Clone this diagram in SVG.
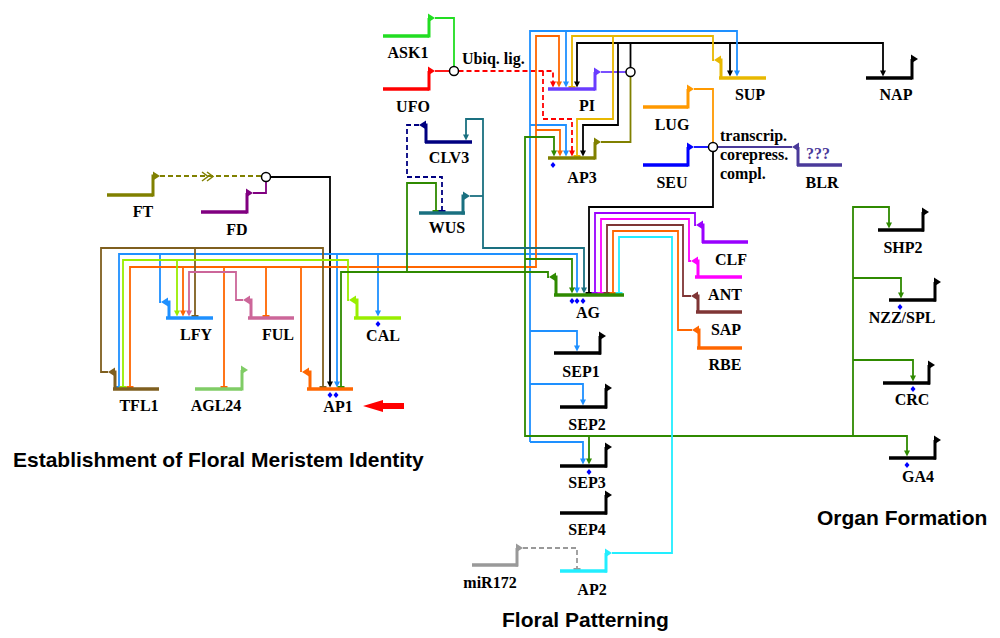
<svg xmlns="http://www.w3.org/2000/svg" width="1000" height="638" viewBox="0 0 1000 638">
<style>
.b{fill:none;stroke:currentColor;stroke-width:3.5}
.p{fill:none;stroke:currentColor;stroke-width:3}
.r{fill:none;stroke-width:1.8}
.d{stroke-dasharray:5 3}
.lb{font-family:"Liberation Serif","Times New Roman",serif;font-weight:bold;font-size:16px;text-anchor:middle;fill:#000}
.tt{font-family:"Liberation Sans",Arial,sans-serif;font-weight:bold;font-size:21px;fill:#000}
.c{fill:#fff;stroke:#000;stroke-width:1.5}
</style>
<defs>
<path id="ad" d="M0,0 L-3,-6 L3,-6 Z" fill="currentColor"/>
<path id="tb" d="M-3.5,0 H3.5" stroke="currentColor" stroke-width="2" fill="none"/>
<path id="pr" d="M0,0 L-7,-4.5 L-7,4.5 Z" fill="currentColor"/>
<path id="pl" d="M0,0 L7,-4.5 L7,4.5 Z" fill="currentColor"/>
<path id="dm" d="M0,-3 L2.5,0 L0,3 L-2.5,0 Z" fill="#0000ff"/>
</defs>
<rect width="1000" height="638" fill="#fff"/>

<g id="connectors">
<!-- FT, FD -->
<path class="r d" stroke="#808000" d="M160,176 H261.5"/>
<polyline points="202,172 208,176.5 202,181" fill="none" stroke="#808000" stroke-width="1.5"/>
<polyline points="207,172 213,176.5 207,181" fill="none" stroke="#808000" stroke-width="1.5"/>
<path class="r" stroke="#800080" d="M253,193 H266 V181.5"/>
<path class="r" stroke="#000" d="M270.5,177 H330 V382"/>
<use href="#ad" x="330" y="387.5" color="#000"/>
<!-- ASK1, UFO -->
<path class="r" stroke="#22dd22" d="M435,18 H454 V66.5"/>
<path class="r" stroke="#ff0000" d="M435,71 H449.5"/>
<path class="r d" stroke="#ff0000" d="M458.5,71 H553 V82"/>
<use href="#ad" x="553" y="87.5" color="#ff0000"/>
<path class="r d" stroke="#ff0000" d="M543,71 V119 H572 V151"/>
<use href="#ad" x="572" y="156.5" color="#ff0000"/>
<!-- PI, AP3 to complex -->
<path class="r" stroke="#6a3cff" d="M601,72 H626"/>
<path class="r" stroke="#808000" d="M601,142 H630.5 V76.5"/>
<!-- PI/AP3 complex outputs -->
<path class="r" stroke="#000" d="M630.5,67.5 V43"/>
<path class="r" stroke="#000" d="M577,82 V43 H883 V72"/>
<use href="#ad" x="577" y="87.5" color="#000"/>
<use href="#ad" x="883" y="76.5" color="#000"/>
<path class="r" stroke="#000" d="M618,43 V125 H583 V151"/>
<use href="#ad" x="583" y="156.5" color="#000"/>
<path class="r" stroke="#000" d="M730,43 V71"/>
<use href="#ad" x="730" y="76.5" color="#000"/>
<!-- SUP -->
<path class="r" stroke="#e8b800" d="M714,60 H713 V36 H572 V87"/>
<use href="#tb" x="572" y="87" color="#e8b800"/>
<path class="r" stroke="#e8b800" d="M613,36 V119 H577 V156"/>
<use href="#tb" x="577" y="156" color="#e8b800"/>
<!-- LFY -->
<path class="r" stroke="#1e90ff" d="M161,302 H160 V254"/>
<path class="r" stroke="#1e90ff" d="M119,387 V254 H577 V288"/>
<use href="#tb" x="119" y="387" color="#1e90ff"/>
<use href="#ad" x="577" y="293.5" color="#1e90ff"/>
<path class="r" stroke="#1e90ff" d="M337,254 V382"/>
<use href="#ad" x="337" y="387.5" color="#1e90ff"/>
<path class="r" stroke="#1e90ff" d="M378,254 V311"/>
<use href="#ad" x="378" y="316.5" color="#1e90ff"/>
<path class="r" stroke="#1e90ff" d="M530,442 V31 H737 V71"/>
<use href="#ad" x="737" y="76.5" color="#1e90ff"/>
<path class="r" stroke="#1e90ff" d="M530,442 H583 V459"/>
<use href="#ad" x="583" y="464.5" color="#1e90ff"/>
<path class="r" stroke="#1e90ff" d="M566,31 V82"/>
<use href="#ad" x="566" y="87.5" color="#1e90ff"/>
<path class="r" stroke="#1e90ff" d="M530,125 H566 V151"/>
<use href="#ad" x="566" y="156.5" color="#1e90ff"/>
<path class="r" stroke="#1e90ff" d="M530,331 H577 V346"/>
<use href="#ad" x="577" y="351.5" color="#1e90ff"/>
<path class="r" stroke="#1e90ff" d="M530,384 H583 V400"/>
<use href="#ad" x="583" y="405.5" color="#1e90ff"/>
<!-- AP1 -->
<path class="r" stroke="#ff6600" d="M301,372 V267"/>
<path class="r" stroke="#ff6600" d="M130,387 V267 H536 V36 H559 V82"/>
<use href="#tb" x="130" y="387" color="#ff6600"/>
<use href="#ad" x="559" y="87.5" color="#ff6600"/>
<path class="r" stroke="#ff6600" d="M183,267 V311"/>
<use href="#ad" x="183" y="316.5" color="#ff6600"/>
<path class="r" stroke="#ff6600" d="M224,267 V387"/>
<use href="#tb" x="224" y="387" color="#ff6600"/>
<path class="r" stroke="#ff6600" d="M266,267 V316"/>
<use href="#tb" x="266" y="316" color="#ff6600"/>
<path class="r" stroke="#ff6600" d="M536,130 H560 V151"/>
<use href="#ad" x="560" y="156.5" color="#ff6600"/>
<!-- TFL1 -->
<path class="r" stroke="#7f5f1f" d="M108,372 H101 V248 H323 V387"/>
<use href="#tb" x="323" y="387" color="#7f5f1f"/>
<path class="r" stroke="#7f5f1f" d="M195,248 V316"/>
<use href="#tb" x="195" y="316" color="#7f5f1f"/>
<!-- FUL -->
<path class="r" stroke="#cc6699" d="M243,300 H236 V272 H189 V311"/>
<use href="#ad" x="189" y="316.5" color="#cc6699"/>
<!-- CAL -->
<path class="r" stroke="#99ee00" d="M349,300 H348 V260 H123 V387"/>
<use href="#tb" x="123" y="387" color="#99ee00"/>
<path class="r" stroke="#99ee00" d="M177,260 V311"/>
<use href="#ad" x="177" y="316.5" color="#99ee00"/>
<!-- AG -->
<path class="r" stroke="#2f8a00" d="M549,277 H548 V272 H341 V387"/>
<use href="#tb" x="341" y="387" color="#2f8a00"/>
<path class="r" stroke="#2f8a00" d="M407,272 V183 H436 V211"/>
<use href="#tb" x="436" y="211" color="#2f8a00"/>
<path class="r" stroke="#2f8a00" d="M554,151 V137 H525 V436 H907 V451"/>
<use href="#ad" x="554" y="156.5" color="#2f8a00"/>
<use href="#ad" x="907" y="456.5" color="#2f8a00"/>
<path class="r" stroke="#2f8a00" d="M525,259 H572 V288"/>
<use href="#ad" x="572" y="293.5" color="#2f8a00"/>
<path class="r" stroke="#2f8a00" d="M589,436 V459"/>
<use href="#ad" x="589" y="464.5" color="#2f8a00"/>
<path class="r" stroke="#2f8a00" d="M853,436 V207 H889 V223"/>
<use href="#ad" x="889" y="228.5" color="#2f8a00"/>
<path class="r" stroke="#2f8a00" d="M853,278 H901 V293"/>
<use href="#ad" x="901" y="298.5" color="#2f8a00"/>
<path class="r" stroke="#2f8a00" d="M853,360 H913 V376"/>
<use href="#ad" x="913" y="381.5" color="#2f8a00"/>
<!-- WUS -->
<path class="r" stroke="#1a7080" d="M470,196 H483"/>
<path class="r" stroke="#1a7080" d="M466,135 V119 H483 V248 H584 V288"/>
<use href="#ad" x="466" y="140.5" color="#1a7080"/>
<use href="#ad" x="584" y="293.5" color="#1a7080"/>
<!-- CLV3 -->
<path class="r d" stroke="#000080" d="M419,125 H407 V177 H442 V211"/>
<use href="#tb" x="442" y="211" color="#000080"/>
<!-- LUG, SEU, BLR -->
<path class="r" stroke="#ff9900" d="M694,89 H713 V142.5"/>
<path class="r" stroke="#0000ff" d="M694,147 H708.5"/>
<path class="r" stroke="#4a3a9a" d="M792,147 H717.5"/>
<path class="r" stroke="#000" d="M713,151.5 V207 H589 V293"/>
<use href="#tb" x="589" y="293" color="#000"/>
<!-- CLF, ANT, SAP, RBE -->
<path class="r" stroke="#9900ff" d="M696,225 H695 V213 H595 V293"/>
<use href="#tb" x="595" y="293" color="#9900ff"/>
<path class="r" stroke="#ff00ff" d="M691,261 H689 V219 H601 V293"/>
<use href="#tb" x="601" y="293" color="#ff00ff"/>
<path class="r" stroke="#7f3535" d="M691,296 H683 V225 H607 V293"/>
<use href="#tb" x="607" y="293" color="#7f3535"/>
<path class="r" stroke="#ff6600" d="M692,330 H678 V231 H613 V293"/>
<use href="#tb" x="613" y="293" color="#ff6600"/>
<!-- AP2 -->
<path class="r" stroke="#22eeff" d="M612,553 H672 V237 H619 V293"/>
<use href="#tb" x="619" y="293" color="#22eeff"/>
<!-- miR172 -->
<path class="r d" stroke="#999999" d="M523,548 H577 V569"/>
<use href="#tb" x="577" y="569" color="#999999"/>
<!-- complexes -->
<circle class="c" cx="266" cy="177" r="4.5"/>
<circle class="c" cx="454" cy="71" r="4.5"/>
<circle class="c" cx="630.5" cy="72" r="4.5"/>
<circle class="c" cx="713" cy="147" r="4.5"/>
</g>

<g id="FT" color="#808000"><path class="b" d="M107,195 H153"/><path class="p" d="M153,196.5 V176 H154"/><use href="#pr" x="160" y="176"/><text class="lb" x="143" y="217">FT</text></g>
<g id="FD" color="#800080"><path class="b" d="M201,212 H247"/><path class="p" d="M247,213.5 V193 H247"/><use href="#pr" x="253" y="193"/><text class="lb" x="237" y="235">FD</text></g>
<g id="TFL1" color="#7f5f1f"><path class="b" d="M113,389 H159"/><path class="p" d="M115,390 V372 H114"/><use href="#pl" x="108" y="372"/><text class="lb" x="139" y="411">TFL1</text></g>
<g id="LFY" color="#1e90ff"><path class="b" d="M166,318 H213"/><path class="p" d="M169,319 V302 H168"/><use href="#pl" x="161" y="302"/><text class="lb" x="196" y="340">LFY</text></g>
<g id="FUL" color="#cc6699"><path class="b" d="M248,318 H294"/><path class="p" d="M251,319 V300 H250"/><use href="#pl" x="243" y="300"/><text class="lb" x="278" y="340">FUL</text></g>
<g id="CAL" color="#99ee00"><path class="b" d="M354,318 H401"/><path class="p" d="M357,319 V300 H356"/><use href="#pl" x="349" y="300"/><text class="lb" x="383" y="341">CAL</text><use href="#dm" x="378" y="324"/></g>
<g id="AGL24" color="#80cc66"><path class="b" d="M195,389 H242"/><path class="p" d="M242,390.5 V370 H242"/><use href="#pr" x="248" y="370"/><text class="lb" x="216" y="411">AGL24</text></g>
<g id="AP1" color="#ff6600"><path class="b" d="M307,389 H353"/><path class="p" d="M310,390 V372 H309"/><use href="#pl" x="302" y="372"/><text class="lb" x="338" y="412">AP1</text><use href="#dm" x="330" y="395"/><use href="#dm" x="336" y="395"/></g>
<path d="M363,406 L383,400 V403 H404 V409 H383 V412 Z" fill="#ff0000"/>

<g id="ASK1" color="#22dd22"><path class="b" d="M383,36 H429"/><path class="p" d="M429,37.5 V18 H429"/><use href="#pr" x="435" y="18"/><text class="lb" x="408" y="58">ASK1</text></g>
<g id="UFO" color="#ff0000"><path class="b" d="M383,89 H429"/><path class="p" d="M429,90.5 V71 H429"/><use href="#pr" x="435" y="71"/><text class="lb" x="413" y="112">UFO</text></g>
<text x="462" y="64" style="font-family:'Liberation Serif',serif;font-weight:bold;font-size:16px;fill:#000">Ubiq. lig.</text>
<g id="CLV3" color="#000080"><path class="b" d="M425,142 H472"/><path class="p" d="M426,143 V125 H425"/><use href="#pl" x="419" y="125"/><text class="lb" x="449" y="163">CLV3</text></g>
<g id="WUS" color="#1a7080"><path class="b" d="M419,213 H465"/><path class="p" d="M463,214.5 V196 H464"/><use href="#pr" x="470" y="196"/><text class="lb" x="447" y="233">WUS</text></g>
<g id="PI" color="#6a3cff"><path class="b" d="M548,89 H595"/><path class="p" d="M595,90.5 V72 H595"/><use href="#pr" x="601" y="72"/><text class="lb" x="587" y="111">PI</text></g>
<g id="AP3" color="#808000"><path class="b" d="M548,158 H595"/><path class="p" d="M595,159.5 V142 H595"/><use href="#pr" x="601" y="142"/><text class="lb" x="582" y="183">AP3</text><use href="#dm" x="553" y="165"/></g>
<g id="SUP" color="#e8b800"><path class="b" d="M719,78 H766"/><path class="p" d="M721,79 V60 H720"/><use href="#pl" x="714" y="60"/><text class="lb" x="750" y="100">SUP</text></g>
<g id="NAP" color="#000"><path class="b" d="M866,78 H912"/><path class="p" d="M912,79.5 V59 H912"/><use href="#pr" x="918" y="59"/><text class="lb" x="896" y="100">NAP</text></g>
<g id="LUG" color="#ff9900"><path class="b" d="M643,107 H688"/><path class="p" d="M688,108.5 V89 H688"/><use href="#pr" x="694" y="89"/><text class="lb" x="672" y="130">LUG</text></g>
<g id="SEU" color="#0000ff"><path class="b" d="M643,165 H688"/><path class="p" d="M688,166.5 V147 H688"/><use href="#pr" x="694" y="147"/><text class="lb" x="672" y="188">SEU</text></g>
<g id="BLR" color="#4a3a9a"><path class="b" d="M797,165 H842"/><path class="p" d="M798,166 V147 H798"/><use href="#pl" x="792" y="147"/><text class="lb" x="822" y="188">BLR</text><text class="lb" x="818" y="159" style="fill:#4a3a9a">???</text></g>
<g id="complex-label">
<text x="720" y="141" style="font-family:'Liberation Serif',serif;font-weight:bold;font-size:16px;fill:#000">transcrip.</text>
<text x="720" y="160" style="font-family:'Liberation Serif',serif;font-weight:bold;font-size:16px;fill:#000">corepress.</text>
<text x="720" y="179" style="font-family:'Liberation Serif',serif;font-weight:bold;font-size:16px;fill:#000">compl.</text>
</g>
<g id="AG" color="#2f8a00"><path class="b" d="M554,295 H624"/><path class="p" d="M556,296 V277 H555"/><use href="#pl" x="549" y="277"/><text class="lb" x="588" y="318">AG</text><use href="#dm" x="572" y="301"/><use href="#dm" x="577" y="301"/><use href="#dm" x="583" y="301"/></g>
<g id="CLF" color="#9900ff"><path class="b" d="M702,242 H748"/><path class="p" d="M703,243 V225 H702"/><use href="#pl" x="696" y="225"/><text class="lb" x="731" y="265">CLF</text></g>
<g id="ANT" color="#ff00ff"><path class="b" d="M695,277 H742"/><path class="p" d="M698,278 V261 H697"/><use href="#pl" x="691" y="261"/><text class="lb" x="725" y="300">ANT</text></g>
<g id="SAP" color="#7f3535"><path class="b" d="M696,312 H742"/><path class="p" d="M698,313 V296 H697"/><use href="#pl" x="691" y="296"/><text class="lb" x="726" y="335">SAP</text></g>
<g id="RBE" color="#ff6600"><path class="b" d="M697,348 H742"/><path class="p" d="M699,349 V330 H698"/><use href="#pl" x="692" y="330"/><text class="lb" x="725" y="370">RBE</text></g>
<g id="SEP1" color="#000"><path class="b" d="M554,353 H601"/><path class="p" d="M600,354.5 V336 H600"/><use href="#pr" x="606" y="336"/><text class="lb" x="581" y="377">SEP1</text></g>
<g id="SEP2" color="#000"><path class="b" d="M560,407 H607"/><path class="p" d="M606,408.5 V388 H606"/><use href="#pr" x="612" y="388"/><text class="lb" x="587" y="430">SEP2</text></g>
<g id="SEP3" color="#000"><path class="b" d="M560,466 H607"/><path class="p" d="M606,467.5 V447 H606"/><use href="#pr" x="612" y="447"/><text class="lb" x="587" y="488">SEP3</text><use href="#dm" x="589" y="472"/></g>
<g id="SEP4" color="#000"><path class="b" d="M560,513 H607"/><path class="p" d="M606,514.5 V495 H606"/><use href="#pr" x="612" y="495"/><text class="lb" x="587" y="535">SEP4</text></g>
<g id="AP2" color="#22eeff"><path class="b" d="M560,571 H607"/><path class="p" d="M606,572.5 V553 H606"/><use href="#pr" x="612" y="553"/><text class="lb" x="592" y="595">AP2</text></g>
<g id="miR172" color="#999999"><path class="b" d="M472,565 H518"/><path class="p" d="M517,566.5 V548 H517"/><use href="#pr" x="523" y="548"/><text class="lb" x="490" y="588">miR172</text></g>
<g id="SHP2" color="#000"><path class="b" d="M878,230 H924"/><path class="p" d="M923,231.5 V212 H923"/><use href="#pr" x="929" y="212"/><text class="lb" x="903" y="253">SHP2</text></g>
<g id="NZZ-SPL" color="#000"><path class="b" d="M889,300 H936"/><path class="p" d="M935,301.5 V282 H935"/><use href="#pr" x="941" y="282"/><text class="lb" x="902" y="323">NZZ/SPL</text><use href="#dm" x="900" y="307"/></g>
<g id="CRC" color="#000"><path class="b" d="M883,383 H930"/><path class="p" d="M929,384.5 V365 H929"/><use href="#pr" x="935" y="365"/><text class="lb" x="912" y="405">CRC</text><use href="#dm" x="913" y="389"/></g>
<g id="GA4" color="#000"><path class="b" d="M889,458 H936"/><path class="p" d="M935,459.5 V440 H935"/><use href="#pr" x="941" y="440"/><text class="lb" x="918" y="482">GA4</text><use href="#dm" x="907" y="465"/></g>

<g id="titles">
<text class="tt" x="13" y="467">Establishment of Floral Meristem Identity</text>
<text class="tt" x="502" y="627">Floral Patterning</text>
<text class="tt" x="817" y="525">Organ Formation</text>
</g>
</svg>
